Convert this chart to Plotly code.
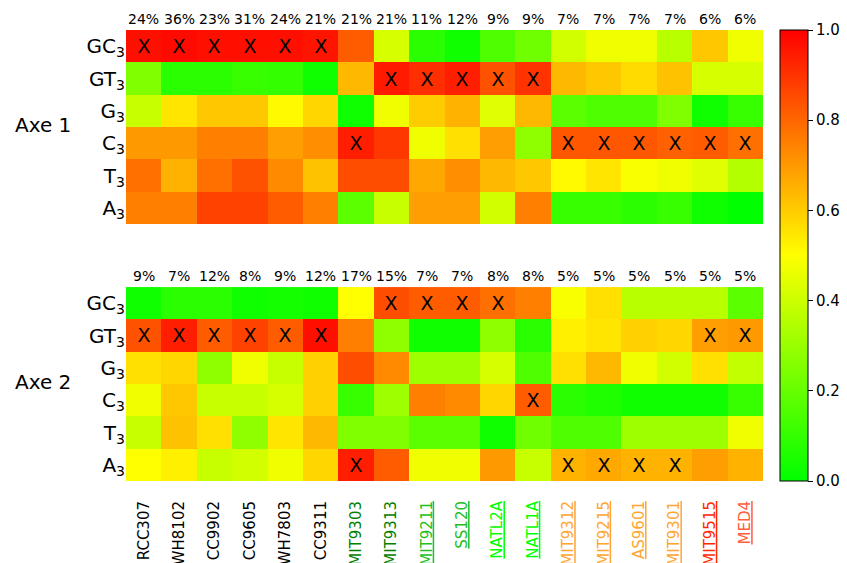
import plotly.graph_objects as go

strains = ["RCC307", "WH8102", "CC9902", "CC9605", "WH7803", "CC9311",
           "MIT9303", "MIT9313", "MIT9211", "SS120", "NATL2A", "NATL1A",
           "MIT9312", "MIT9215", "AS9601", "MIT9301", "MIT9515", "MED4"]
label_colors = ["#000000"] * 6 + ["#008000"] * 2 + ["#22c022"] * 2 + ["#00ff00"] * 2 + \
               ["#ffa630"] * 4 + ["#ff2a00", "#ff6040"]
underlined = [False] * 8 + [True] * 10
rows = ["GC<sub>3</sub>", "GT<sub>3</sub>", "G<sub>3</sub>", "C<sub>3</sub>", "T<sub>3</sub>", "A<sub>3</sub>"]

pct_axe1 = [24, 36, 23, 31, 24, 21, 21, 21, 11, 12, 9, 9, 7, 7, 7, 7, 6, 6]
pct_axe2 = [9, 7, 12, 8, 9, 12, 17, 15, 7, 7, 8, 8, 5, 5, 5, 5, 5, 5]

axe1_GC3 = [0.97, 0.98, 0.97, 0.97, 0.97, 0.96, 0.82, 0.42, 0.08, 0.03, 0.15, 0.22, 0.41, 0.47, 0.47, 0.36, 0.61, 0.47]
axe1_GT3 = [0.25, 0.08, 0.08, 0.11, 0.10, 0.03, 0.64, 0.95, 0.91, 0.94, 0.84, 0.90, 0.64, 0.61, 0.57, 0.62, 0.42, 0.42]
axe1_G3 = [0.39, 0.55, 0.61, 0.61, 0.51, 0.58, 0.03, 0.47, 0.60, 0.65, 0.44, 0.64, 0.18, 0.15, 0.15, 0.25, 0.03, 0.11]
axe1_C3 = [0.70, 0.70, 0.75, 0.75, 0.69, 0.72, 0.94, 0.89, 0.47, 0.56, 0.69, 0.28, 0.83, 0.83, 0.83, 0.81, 0.82, 0.78]
axe1_T3 = [0.78, 0.65, 0.78, 0.84, 0.73, 0.62, 0.85, 0.85, 0.67, 0.72, 0.64, 0.61, 0.51, 0.55, 0.49, 0.47, 0.44, 0.35]
axe1_A3 = [0.75, 0.75, 0.87, 0.87, 0.82, 0.75, 0.18, 0.39, 0.69, 0.69, 0.41, 0.75, 0.11, 0.11, 0.08, 0.11, 0.03, 0.00]

axe2_GC3 = [0.03, 0.08, 0.08, 0.03, 0.04, 0.03, 0.50, 0.85, 0.82, 0.82, 0.78, 0.75, 0.49, 0.56, 0.36, 0.36, 0.36, 0.18]
axe2_GT3 = [0.84, 0.94, 0.82, 0.87, 0.82, 0.97, 0.75, 0.28, 0.03, 0.03, 0.28, 0.08, 0.53, 0.55, 0.59, 0.58, 0.69, 0.70]
axe2_G3 = [0.56, 0.58, 0.28, 0.47, 0.39, 0.59, 0.85, 0.73, 0.31, 0.31, 0.42, 0.15, 0.56, 0.64, 0.47, 0.41, 0.56, 0.38]
axe2_C3 = [0.47, 0.61, 0.39, 0.39, 0.42, 0.59, 0.11, 0.31, 0.75, 0.73, 0.58, 0.82, 0.08, 0.06, 0.03, 0.03, 0.03, 0.11]
axe2_T3 = [0.39, 0.62, 0.56, 0.28, 0.55, 0.64, 0.25, 0.25, 0.18, 0.18, 0.03, 0.22, 0.15, 0.15, 0.31, 0.31, 0.31, 0.47]
axe2_A3 = [0.50, 0.53, 0.39, 0.41, 0.47, 0.58, 0.94, 0.82, 0.47, 0.47, 0.70, 0.39, 0.65, 0.67, 0.65, 0.65, 0.69, 0.65]

# X marks: column indices per row
marks_axe1 = {"GC3": [0, 1, 2, 3, 4, 5], "GT3": [7, 8, 9, 10, 11], "G3": [],
              "C3": [6, 12, 13, 14, 15, 16, 17], "T3": [], "A3": []}
marks_axe2 = {"GC3": [7, 8, 9, 10], "GT3": [0, 1, 2, 3, 4, 5, 16, 17], "G3": [],
              "C3": [11], "T3": [], "A3": [6, 12, 13, 14, 15]}
row_keys = ["GC3", "GT3", "G3", "C3", "T3", "A3"]

z1 = [axe1_GC3, axe1_GT3, axe1_G3, axe1_C3, axe1_T3, axe1_A3]
z2 = [axe2_GC3, axe2_GT3, axe2_G3, axe2_C3, axe2_T3, axe2_A3]

def mark_text(marks):
    return [["X" if j in marks[k] else "" for j in range(len(strains))] for k in row_keys]

FONT = "DejaVu Sans"
cols = list(range(len(strains)))

fig = go.Figure()
fig.add_trace(go.Heatmap(z=z1, x=cols, y=rows, coloraxis="coloraxis",
                         text=mark_text(marks_axe1), texttemplate="%{text}",
                         textfont=dict(size=19, color="black", family=FONT),
                         xaxis="x", yaxis="y", hoverinfo="skip"))
fig.add_trace(go.Heatmap(z=z2, x=cols, y=rows, coloraxis="coloraxis",
                         text=mark_text(marks_axe2), texttemplate="%{text}",
                         textfont=dict(size=19, color="black", family=FONT),
                         xaxis="x2", yaxis="y2", hoverinfo="skip"))

ticktext = []
for s, c, u in zip(strains, label_colors, underlined):
    t = f"<u>{s}</u>" if u else s
    ticktext.append(f"<span style='color:{c}'>{t}</span>")

annotations = []
for j in cols:
    annotations.append(dict(x=j, y=1, xref="x", yref="y domain", text=f"{pct_axe1[j]}%",
                            showarrow=False, yanchor="bottom", yshift=1,
                            font=dict(size=14, color="black", family=FONT)))
    annotations.append(dict(x=j, y=1, xref="x2", yref="y2 domain", text=f"{pct_axe2[j]}%",
                            showarrow=False, yanchor="bottom", yshift=1,
                            font=dict(size=14, color="black", family=FONT)))
annotations.append(dict(x=-0.13, y=0.789, xref="paper", yref="paper", text="Axe 1",
                        xanchor="center", yanchor="middle",
                        showarrow=False, font=dict(size=20, color="black", family=FONT)))
annotations.append(dict(x=-0.13, y=0.22, xref="paper", yref="paper", text="Axe 2",
                        xanchor="center", yanchor="middle",
                        showarrow=False, font=dict(size=20, color="black", family=FONT)))

fig.update_layout(
    width=847, height=563,
    margin=dict(l=126, r=84, t=30, b=82, autoexpand=False),
    paper_bgcolor="white", plot_bgcolor="white",
    font=dict(family=FONT, color="black"),
    coloraxis=dict(
        colorscale=[[0, "#00ff00"], [0.5, "#ffff00"], [1, "#ff0000"]],
        cmin=0, cmax=1,
        colorbar=dict(x=1.0267, xanchor="left", y=0, yanchor="bottom", len=1, lenmode="fraction",
                      thickness=28, thicknessmode="pixels", outlinecolor="black", outlinewidth=1,
                      ticks="outside", ticklen=5, tickcolor="black",
                      tickvals=[0, 0.2, 0.4, 0.6, 0.8, 1.0], ticktext=["0.0", "0.2", "0.4", "0.6", "0.8", "1.0"],
                      tickfont=dict(size=15, family=FONT, color="black"), xpad=0, ypad=0),
    ),
    xaxis=dict(domain=[0, 1], anchor="y", showticklabels=False, ticks="", showgrid=False,
               zeroline=False, range=[-0.5, 17.5], automargin=False),
    yaxis=dict(domain=[0.5698, 1.0], anchor="x", autorange="reversed", ticks="", showgrid=False,
               zeroline=False, tickfont=dict(size=20, family=FONT, color="black"), automargin=False),
    xaxis2=dict(domain=[0, 1], anchor="y2", tickmode="array", tickvals=cols, ticktext=ticktext,
                tickangle=-90, ticks="", showgrid=False, zeroline=False, range=[-0.5, 17.5],
                ticklabelstandoff=16, tickfont=dict(size=15, family=FONT), automargin=False),
    yaxis2=dict(domain=[0, 0.430], anchor="x2", autorange="reversed", ticks="", showgrid=False,
                zeroline=False, tickfont=dict(size=20, family=FONT, color="black"), automargin=False),
    annotations=annotations,
)

fig.write_html("out.html", config={"displayModeBar": False},
               post_script="document.body.style.margin='0';document.body.style.overflow='hidden';")
